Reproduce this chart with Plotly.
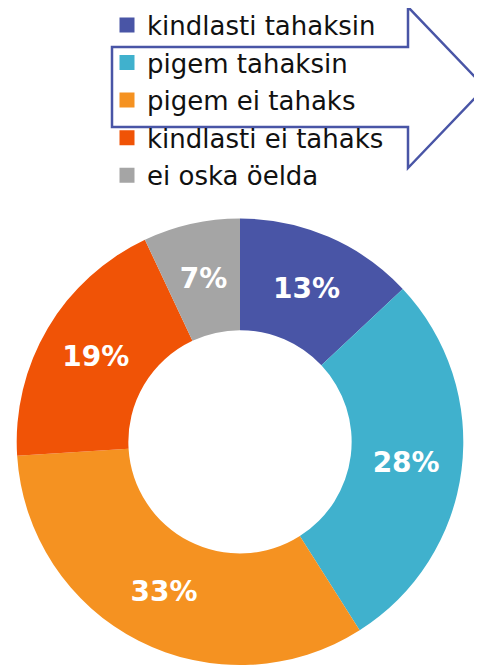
import plotly.graph_objects as go

categories = ["kindlasti tahaksin", "pigem tahaksin", "pigem ei tahaks", "kindlasti ei tahaks", "ei oska öelda"]
shares = [13, 28, 33, 19, 7]
colors = ["#4955a6", "#40b1cd", "#f59221", "#f05306", "#a5a5a5"]

W, H = 482, 665
OFF = 8  # page body margin offset in the browser

CX, CY, R = 240, 441.8, 223.3   # donut centre / outer radius (px)
R_SMALL = 204                    # label ring for narrow slices

label = "<b>%{value}%</b>"
small = [v < 10 for v in shares]

def dom(r):
    return dict(x=[(CX - r - OFF) / W, (CX + r - OFF) / W],
                y=[1 - (CY + r - OFF) / H, 1 - (CY - r - OFF) / H])

fig = go.Figure()
fig.add_trace(go.Pie(
    labels=categories, values=shares, sort=False, direction="clockwise", rotation=0,
    hole=0.5,
    marker=dict(colors=colors, line=dict(width=0)),
    texttemplate=["" if s else label for s in small], textposition="inside",
    insidetextorientation="horizontal",
    textfont=dict(family="DejaVu Sans", size=28, color="white"),
    showlegend=False, hoverinfo="label+percent",
    domain=dom(R),
))
# label layer for narrow slices, so their labels sit mid-ring
fig.add_trace(go.Pie(
    labels=categories, values=shares, sort=False, direction="clockwise", rotation=0,
    hole=0.5,
    marker=dict(colors=["rgba(0,0,0,0)"] * len(shares), line=dict(width=0)),
    texttemplate=[label if s else "" for s in small], textposition="inside",
    insidetextorientation="horizontal",
    textfont=dict(family="DejaVu Sans", size=28, color="white"),
    showlegend=False, hoverinfo="skip",
    domain=dom(R_SMALL),
))

for c, col in zip(categories, colors):
    fig.add_trace(go.Scatter(
        x=[None], y=[None], mode="markers", name=c, legendgroup=c,
        marker=dict(symbol="square", size=15, color=col),
    ))

def px(x, y):
    return f"{(x - OFF) / W:.5f},{1 - (y - OFF) / H:.5f}"

arrow = [(112, 47), (408, 47), (408, 7), (485, 87.5), (408, 168), (408, 127), (112, 127)]
path = "M" + " L".join(px(x, y) for x, y in arrow) + " Z"

fig.update_layout(
    width=W, height=H,
    margin=dict(l=0, r=0, t=0, b=0, autoexpand=False),
    paper_bgcolor="white", plot_bgcolor="white",
    xaxis=dict(visible=False), yaxis=dict(visible=False),
    shapes=[dict(type="path", xref="paper", yref="paper", path=path,
                 line=dict(color="#4955a6", width=2.5), fillcolor="white", layer="below")],
    legend=dict(
        x=(107 - OFF) / W, xanchor="left", y=1 + (OFF - 1.5) / H, yanchor="top",
        traceorder="grouped", tracegroupgap=0.8,
        bgcolor="rgba(0,0,0,0)", borderwidth=0,
        font=dict(family="DejaVu Sans", size=26, color="#111111"),
    ),
    showlegend=True,
)

fig.write_html("out.html")
